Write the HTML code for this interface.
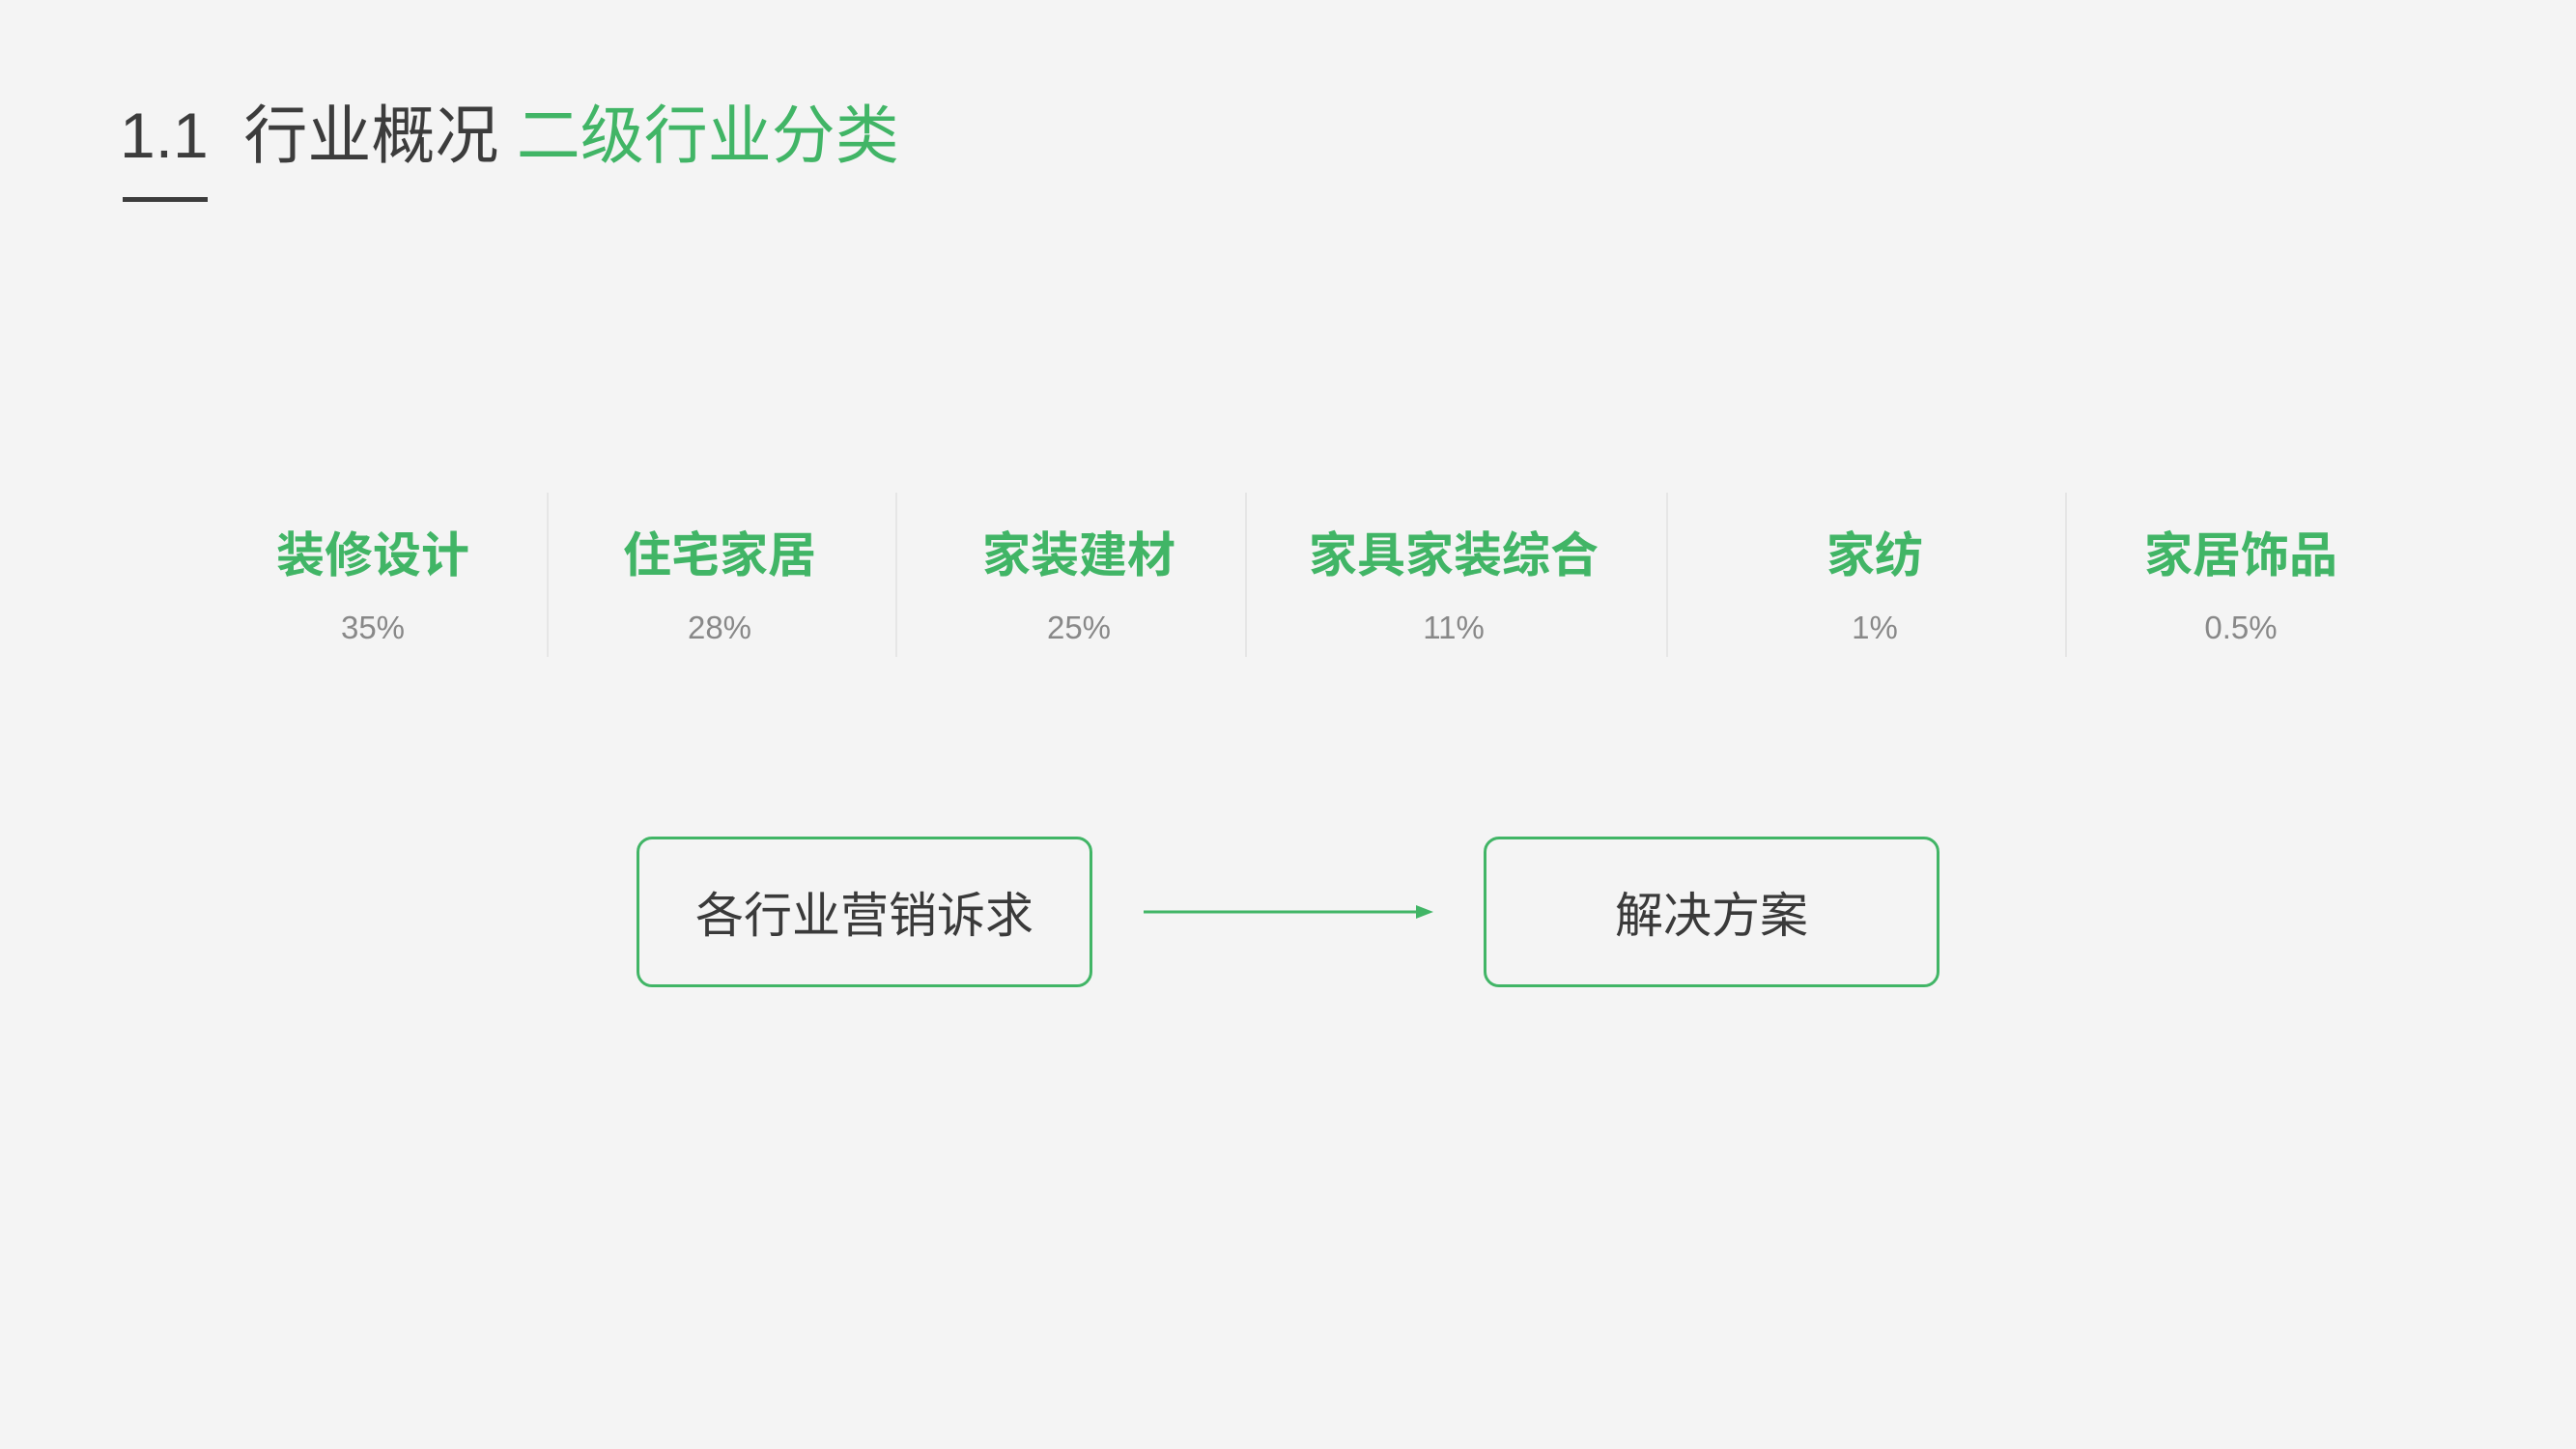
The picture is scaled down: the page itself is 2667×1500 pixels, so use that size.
<!DOCTYPE html>
<html><head><meta charset="utf-8"><style>
body{margin:0;width:2667px;height:1500px;background:#f4f4f4;position:relative;overflow:hidden;font-family:"Liberation Sans","Noto Sans CJK SC",sans-serif}
.a{position:absolute;white-space:nowrap}
.t{left:124px;top:95px;font-size:66px;color:#3c3c3c;line-height:90px}
.g{color:#41b566}
.ul{left:127px;top:204px;width:88px;height:5px;background:#3c3c3c}
.lab{font-size:50px;font-weight:bold;color:#41b566;transform:translateX(-50%);top:542px;line-height:66px}
.pct{font-size:33px;color:#888;transform:translateX(-50%);top:628px;line-height:44px}
.div{width:2px;background:#e6e6e6;top:510px;height:170px}
.box{border:3px solid #41b566;border-radius:16px;top:866px;width:472px;height:156px;display:flex;align-items:center;justify-content:center;font-size:50px;color:#3a3a3a;box-sizing:border-box}
</style></head><body>
<div class="a t">1.1&nbsp; 行业概况 <span class="g">二级行业分类</span></div>
<div class="a ul"></div>
<div class="a lab" style="left:386px">装修设计</div><div class="a pct" style="left:386px">35%</div>
<div class="a lab" style="left:745px">住宅家居</div><div class="a pct" style="left:745px">28%</div>
<div class="a lab" style="left:1117px">家装建材</div><div class="a pct" style="left:1117px">25%</div>
<div class="a lab" style="left:1505px">家具家装综合</div><div class="a pct" style="left:1505px">11%</div>
<div class="a lab" style="left:1941px">家纺</div><div class="a pct" style="left:1941px">1%</div>
<div class="a lab" style="left:2320px">家居饰品</div><div class="a pct" style="left:2320px">0.5%</div>
<div class="a div" style="left:566px"></div>
<div class="a div" style="left:927px"></div>
<div class="a div" style="left:1289px"></div>
<div class="a div" style="left:1725px"></div>
<div class="a div" style="left:2138px"></div>
<div class="a box" style="left:659px">各行业营销诉求</div>
<div class="a box" style="left:1536px">解决方案</div>
<svg class="a" style="left:0;top:0" width="2667" height="1500">
<line x1="1184" y1="944" x2="1470" y2="944" stroke="#41b566" stroke-width="3"/>
<polygon points="1466,937 1484,944 1466,951" fill="#41b566"/>
</svg>
</body></html>
